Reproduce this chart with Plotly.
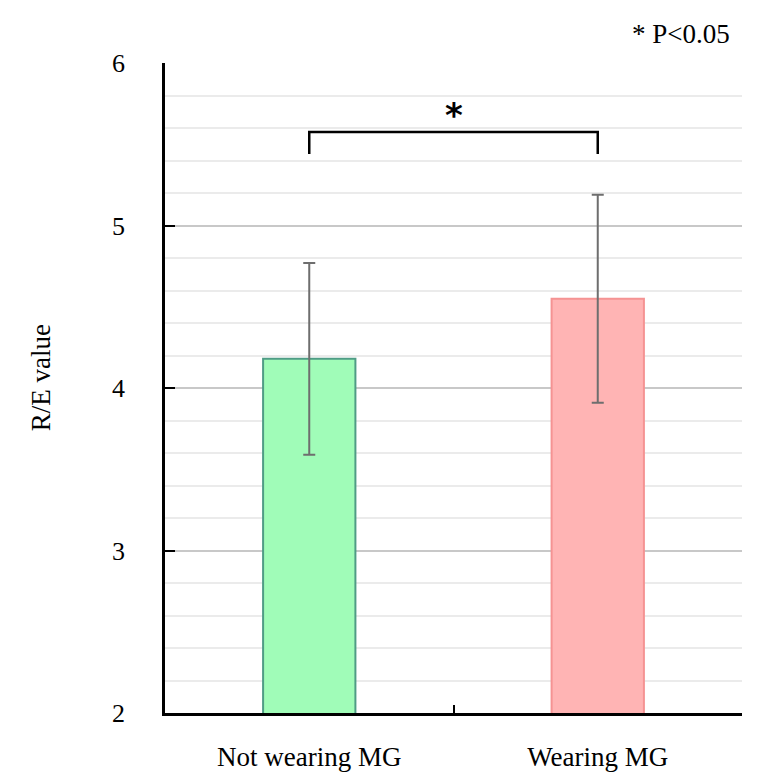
import plotly.graph_objects as go

categories = ["Not wearing MG", "Wearing MG"]
means = [4.18, 4.55]
sds = [0.59, 0.64]
fill_colors = ["#a0fcb8", "#ffb4b4"]
line_colors = ["#4f9c85", "#f59393"]
y_ticks = [2, 3, 4, 5, 6]

fig = go.Figure()
fig.add_trace(go.Bar(
    x=categories, y=means,
    width=0.32,
    marker=dict(color=fill_colors, line=dict(color=line_colors, width=2)),
    error_y=dict(type="data", array=sds, visible=True, color="#6e6e6e", thickness=2, width=6),
    showlegend=False,
))

# significance bracket
fig.add_shape(type="path", xref="x", yref="y",
              path="M 0,5.44 L 0,5.575 L 1,5.575 L 1,5.44",
              line=dict(color="black", width=2.5))
fig.add_annotation(x=0.5, y=5.68, xref="x", yref="y", text="<b>*</b>", showarrow=False,
                   font=dict(family="DejaVu Sans", size=34, color="black"))
fig.add_annotation(x=1, y=1.0, xref="paper", yref="paper", xanchor="right", yanchor="bottom",
                   yshift=12, xshift=-10, text="* P<0.05", showarrow=False,
                   font=dict(family="Liberation Serif", size=27, color="black"))
# y-axis title
fig.add_annotation(x=0, y=0.515, xref="paper", yref="paper", xanchor="center", yanchor="middle",
                   xshift=-124, text="R/E value", textangle=-90, showarrow=False,
                   font=dict(family="Liberation Serif", size=27, color="black"))

fig.update_layout(
    width=764, height=784,
    margin=dict(l=165, r=22, t=63, b=71),
    plot_bgcolor="white", paper_bgcolor="white",
)
fig.update_xaxes(
    type="category", range=[-0.5, 1.5],
    showline=True, linecolor="black", linewidth=2.5,
    ticks="inside", tickson="boundaries", ticklen=8, tickwidth=2, tickcolor="black",
    showgrid=False,
    tickfont=dict(family="Liberation Serif", size=27, color="black"),
    ticklabelstandoff=18,
)
fig.update_yaxes(
    range=[2, 6], tickvals=y_ticks,
    showline=True, linecolor="black", linewidth=2.5,
    ticks="inside", ticklen=10, tickwidth=2, tickcolor="black",
    showgrid=True, gridcolor="#c8c8c8", gridwidth=2,
    minor=dict(dtick=0.2, showgrid=True, gridcolor="#ebebeb", gridwidth=1.5, ticks=""),
    zeroline=False,
    tickfont=dict(family="Liberation Serif", size=26, color="black"),
    ticklabelstandoff=32,
)

fig.write_html("out.html")
